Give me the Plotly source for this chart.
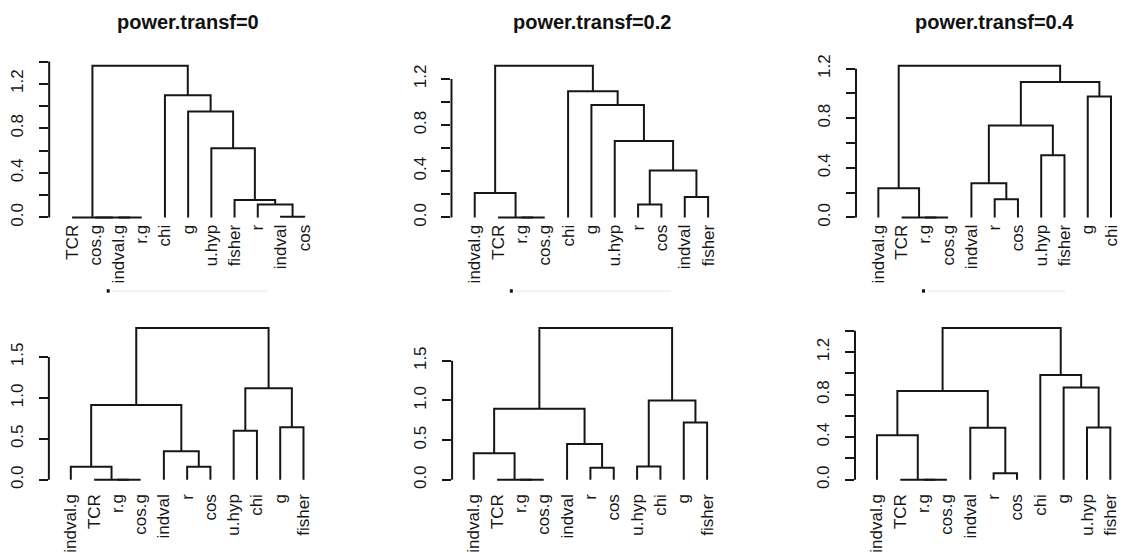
import plotly.graph_objects as go

W, H = 1121, 553

# ---------------- data ----------------
titles = ["power.transf=0", "power.transf=0.2", "power.transf=0.4"]

# hclust-style merges: negative = leaf index (1-based, in plotted order), positive = earlier merge
p1_labels = ["TCR", "cos.g", "indval.g", "r.g", "chi", "g", "u.hyp", "fisher", "r", "indval", "cos"]
p1_merge = [(-3, -4), (-2, 1), (-1, 2), (-10, -11), (-9, 4), (-8, 5), (-7, 6), (-6, 7), (-5, 8), (3, 9)]
p1_height = [0.0, 0.0, 0.0, 0.005, 0.115, 0.156, 0.622, 0.952, 1.096, 1.362]

p2_labels = ["indval.g", "TCR", "r.g", "cos.g", "chi", "g", "u.hyp", "r", "cos", "indval", "fisher"]
p2_merge = [(-3, -4), (-2, 1), (-1, 2), (-8, -9), (-10, -11), (4, 5), (-7, 6), (-6, 7), (-5, 8), (3, 9)]
p2_height = [0.0, 0.0, 0.211, 0.111, 0.177, 0.407, 0.663, 0.973, 1.092, 1.314]

p3_labels = ["indval.g", "TCR", "r.g", "cos.g", "indval", "r", "cos", "u.hyp", "fisher", "g", "chi"]
p3_merge = [(-3, -4), (-2, 1), (-1, 2), (-6, -7), (-5, 4), (-8, -9), (5, 6), (-10, -11), (7, 8), (3, 9)]
p3_height = [0.0, 0.0, 0.236, 0.146, 0.276, 0.501, 0.742, 0.975, 1.092, 1.224]

p4_labels = ["indval.g", "TCR", "r.g", "cos.g", "indval", "r", "cos", "u.hyp", "chi", "g", "fisher"]
p4_merge = [(-3, -4), (-2, 1), (-1, 2), (-6, -7), (-5, 4), (3, 5), (-8, -9), (-10, -11), (7, 8), (6, 9)]
p4_height = [0.0, 0.0, 0.16, 0.16, 0.348, 0.912, 0.60, 0.64, 1.116, 1.852]

p5_labels = ["indval.g", "TCR", "r.g", "cos.g", "indval", "r", "cos", "u.hyp", "chi", "g", "fisher"]
p5_merge = [(-3, -4), (-2, 1), (-1, 2), (-6, -7), (-5, 4), (3, 5), (-8, -9), (-10, -11), (7, 8), (6, 9)]
p5_height = [0.0, 0.0, 0.334, 0.153, 0.45, 0.896, 0.166, 0.721, 1.0, 1.912]

p6_labels = ["indval.g", "TCR", "r.g", "cos.g", "indval", "r", "cos", "chi", "g", "u.hyp", "fisher"]
p6_merge = [(-3, -4), (-2, 1), (-1, 2), (-6, -7), (-5, 4), (3, 5), (-10, -11), (-9, 7), (-8, 8), (6, 9)]
p6_height = [0.0, 0.0, 0.418, 0.062, 0.489, 0.834, 0.492, 0.868, 0.985, 1.425]

tick_step = [0.2, 0.2, 0.2, 0.5, 0.5, 0.2]
label_every = [2, 2, 2, 1, 1, 2]

# ---------------- layout geometry (pixels) ----------------
axis_px = [49.3, 452.7, 858.3, 49.0, 453.3, 857.3]
leaf1_px = [72.3, 476.0, 880.7, 71.0, 475.0, 879.3]
spacing_px = [23.27, 23.4, 23.33, 23.33, 23.4, 23.4]
zero_px = [220.0, 220.0, 220.0, 486.7, 486.7, 486.7]
label_shift = [1, 1, 1, 8, 8, 8]
top_span_px = 154.2
title_x_px = [189.0, 593.3, 997.5]
title_y_px = 21.5

FONT = "Liberation Sans, Arial, sans-serif"
INK = "#161616"

panels = [
    (p1_labels, p1_merge, p1_height),
    (p2_labels, p2_merge, p2_height),
    (p3_labels, p3_merge, p3_height),
    (p4_labels, p4_merge, p4_height),
    (p5_labels, p5_merge, p5_height),
    (p6_labels, p6_merge, p6_height),
]

fig = go.Figure()
shapes = []
annotations = []
layout = {}

for k, (labels, merge, height) in enumerate(panels):
    idx = k + 1
    xa_name = "x" if idx == 1 else f"x{idx}"
    ya_name = "y" if idx == 1 else f"y{idx}"

    node_x, node_h = {}, {}
    xs, ys = [], []
    for j, (a, b) in enumerate(merge, start=1):
        xa = -a if a < 0 else node_x[a]
        ha = 0.0 if a < 0 else node_h[a]
        xb = -b if b < 0 else node_x[b]
        hb = 0.0 if b < 0 else node_h[b]
        h = height[j - 1]
        xs += [xa, xa, xb, xb, None]
        ys += [ha, h, h, hb, None]
        node_x[j] = (xa + xb) / 2.0
        node_h[j] = h

    fig.add_trace(go.Scatter(
        x=xs, y=ys, mode="lines", xaxis=xa_name, yaxis=ya_name,
        line=dict(color=INK, width=2), hoverinfo="skip", showlegend=False,
    ))

    n = len(labels)
    maxh = max(height)
    # x geometry
    sp = spacing_px[k]
    lo = 1 - (leaf1_px[k] - axis_px[k]) / sp
    right_px = min(W, axis_px[k] + (n + 0.6 - lo) * sp)
    hi = lo + (right_px - axis_px[k]) / sp
    # y geometry
    ppu = top_span_px / maxh
    pad_b, pad_t = 2.0, 10.0
    ylo = -pad_b / ppu
    yhi = maxh + pad_t / ppu
    dom_bot = zero_px[k] + pad_b
    dom_top = zero_px[k] - top_span_px - pad_t

    # ticks: multiples of step within the extended data range
    step = tick_step[k]
    tv, tt = [], []
    i = 0
    while i * step <= maxh * 1.04 + 1e-9:
        tv.append(round(i * step, 6))
        tt.append(f"{i * step:.1f}" if i % label_every[k] == 0 else "")
        i += 1

    layout["xaxis" if idx == 1 else f"xaxis{idx}"] = dict(
        domain=[axis_px[k] / W, right_px / W], range=[lo, hi], anchor=ya_name,
        tickmode="array", tickvals=list(range(1, n + 1)), ticktext=labels,
        tickangle=-90, ticks="", showline=False, showgrid=False, zeroline=False,
        ticklabeloverflow="allow", ticklabelstandoff=label_shift[k],
        tickfont=dict(family=FONT, size=17, color=INK), fixedrange=True,
    )
    layout["yaxis" if idx == 1 else f"yaxis{idx}"] = dict(
        domain=[1 - dom_bot / H, 1 - dom_top / H], range=[ylo, yhi], anchor=xa_name,
        tickmode="array", tickvals=tv, ticktext=tt, ticks="outside", ticklen=9,
        tickwidth=2, tickcolor=INK, tickangle=-90, showline=False, showgrid=False,
        zeroline=False, ticklabelstandoff=9, ticklabeloverflow="allow",
        tickfont=dict(family=FONT, size=17, color=INK), fixedrange=True,
    )
    shapes.append(dict(type="line", xref="paper", yref=ya_name,
                       x0=axis_px[k] / W, x1=axis_px[k] / W, y0=0, y1=tv[-1],
                       line=dict(color=INK, width=2)))

for t, tx in zip(titles, title_x_px):
    annotations.append(dict(text=f"<b>{t}</b>", xref="paper", yref="paper",
                            x=tx / W, y=1 - title_y_px / H, xanchor="center", yanchor="middle",
                            showarrow=False, font=dict(family=FONT, size=20, color="#111")))

# faint remnants below the top row
for dot_x, line_end in [(108.5, 268), (512.7, 673), (926.0, 1068)]:
    shapes.append(dict(type="rect", xref="paper", yref="paper",
                       x0=(dot_x - 1.5) / W, x1=(dot_x + 1.5) / W,
                       y0=1 - 296.5 / H, y1=1 - 293.0 / H,
                       fillcolor="#111", line=dict(width=0)))
    shapes.append(dict(type="line", xref="paper", yref="paper",
                       x0=(dot_x + 4) / W, x1=line_end / W,
                       y0=1 - 295 / H, y1=1 - 295 / H,
                       line=dict(color="#f1f1f1", width=2)))

fig.update_layout(
    width=W, height=H, margin=dict(l=0, r=0, t=0, b=0),
    paper_bgcolor="white", plot_bgcolor="white", showlegend=False,
    shapes=shapes, annotations=annotations, **layout,
)

fig.write_html("out.html", config={"displayModeBar": False})
